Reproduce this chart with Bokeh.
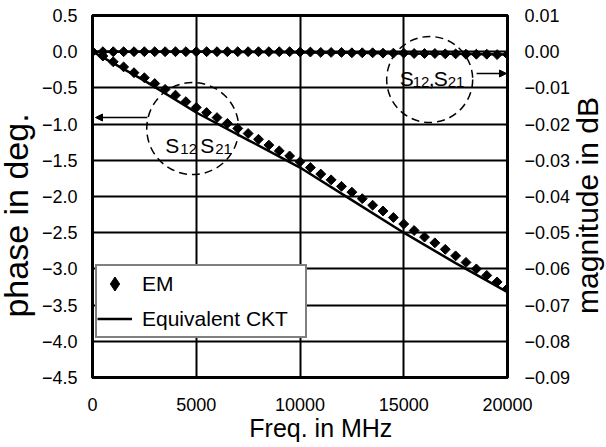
import math
from bokeh.plotting import figure
from bokeh.models import (Range1d, LinearAxis, FixedTicker, CustomJSTickFormatter,
                          Legend, LegendItem, Arrow, NormalHead, Label)
from bokeh.embed import file_html
from bokeh.resources import INLINE

# ---------------- data ----------------
freq_em = [0, 500, 1000, 1500, 2000, 2500, 3000, 3500, 4000, 4500,
           5000, 5500, 6000, 6500, 7000, 7500, 8000, 8500, 9000, 9500,
           10000, 10500, 11000, 11500, 12000, 12500, 13000, 13500, 14000, 14500,
           15000, 15500, 16000, 16500, 17000, 17500, 18000, 18500, 19000, 19500,
           20000]
em_phase = [0.0, -0.06, -0.14, -0.21, -0.29, -0.36, -0.44, -0.52, -0.60, -0.69,
            -0.77, -0.84, -0.91, -0.99, -1.06, -1.13, -1.21, -1.29, -1.37, -1.44,
            -1.52, -1.60, -1.69, -1.77, -1.86, -1.94, -2.03, -2.12, -2.20, -2.29,
            -2.38, -2.47, -2.56, -2.64, -2.73, -2.82, -2.91, -3.00, -3.09, -3.18,
            -3.27]
em_mag = [0.0, 0.0, 0.0, 0.0, 0.0, 0.0, 0.0, 0.0, 0.0, 0.0,
          0.0, 0.0, 0.0, 0.0, 0.0, 0.0, 0.0, 0.0, 0.0, 0.0,
          -0.0001, -0.0001, -0.0002, -0.0002, -0.0002, -0.0003, -0.0003, -0.0003, -0.0004, -0.0004,
          -0.0004, -0.0005, -0.0005, -0.0005, -0.0006, -0.0006, -0.0007, -0.0007, -0.0007, -0.0008,
          -0.0008]
freq_ckt = [0, 2500, 5000, 7500, 10000, 12500, 15000, 17500, 20000]
ckt_phase = [0.0, -0.40, -0.84, -1.22, -1.60, -2.05, -2.50, -2.92, -3.32]
ckt_mag = [0.0, 0.0, 0.0, -0.0001, -0.0002, -0.0003, -0.0005, -0.0006, -0.0008]

x_ticks = [0, 5000, 10000, 15000, 20000]
phase_ticks = [0.5, 0.0, -0.5, -1.0, -1.5, -2.0, -2.5, -3.0, -3.5, -4.0, -4.5]
mag_ticks = [0.01, 0.0, -0.01, -0.02, -0.03, -0.04, -0.05, -0.06, -0.07, -0.08, -0.09]

FONT = "Liberation Sans"

# frame geometry on the page (used only to place annotations)
FL, FR, FT, FB = 92, 508, 15, 377


def ax_x(px):
    return (px - FL) / (FR - FL) * 20000


def ax_y(py):
    return 0.5 - (py - FT) / (FB - FT) * 5.0


p = figure(width=606, height=447, x_range=Range1d(0, 20000), y_range=Range1d(-4.5, 0.5),
           output_backend="svg", toolbar_location=None,
           min_border_left=92, min_border_right=98, min_border_top=15, min_border_bottom=70)
p.extra_y_ranges = {"mag": Range1d(-0.09, 0.01)}
p.background_fill_color = "white"
p.border_fill_color = "white"
p.outline_line_color = "black"
p.outline_line_width = 3
p.outline_line_alpha = 1.0

rax = LinearAxis(y_range_name="mag")
p.add_layout(rax, "right")

p.xaxis.ticker = FixedTicker(ticks=x_ticks)
p.yaxis[0].ticker = FixedTicker(ticks=phase_ticks)
p.yaxis[0].formatter = CustomJSTickFormatter(code="return tick.toFixed(1).replace('-', '\u2212');")
rax.ticker = FixedTicker(ticks=mag_ticks)
rax.formatter = CustomJSTickFormatter(code="return tick.toFixed(2).replace('-', '\u2212');")

for ax in [p.xaxis[0], p.yaxis[0], rax]:
    ax.axis_line_color = None
    ax.major_tick_line_color = None
    ax.minor_tick_line_color = None
    ax.major_tick_out = 0
    ax.major_tick_in = 0
    ax.minor_tick_out = 0
    ax.minor_tick_in = 0
    ax.major_label_text_font = FONT
    ax.major_label_text_font_size = "18px"
    ax.major_label_text_color = "black"
    ax.axis_label_text_font = FONT
    ax.axis_label_text_font_style = "normal"
    ax.axis_label_text_color = "black"

p.xaxis[0].major_label_standoff = 20
p.xaxis[0].axis_label = "\u00a0\u00a0\u00a0\u00a0\u00a0\u00a0Freq. in MHz"
p.xaxis[0].axis_label_text_font_size = "25px"
p.xaxis[0].axis_label_standoff = 0

p.yaxis[0].major_label_standoff = 15
rax.major_label_standoff = 17

# side titles, reading bottom-to-top, each in its own side panel
p.add_layout(Label(x=15, y=162, x_units="screen", y_units="screen", text="phase in deg.",
                   angle=math.pi / 2, text_font=FONT, text_font_size="34px",
                   text_align="center", text_baseline="alphabetic", text_color="black"),
             "left")
p.add_layout(Label(x=14, y=172, x_units="screen", y_units="screen", text="magnitude in dB",
                   angle=math.pi / 2, text_font=FONT, text_font_size="30px",
                   text_align="center", text_baseline="alphabetic", text_color="black"),
             "right")

p.xgrid.ticker = FixedTicker(ticks=x_ticks)
p.ygrid.ticker = FixedTicker(ticks=phase_ticks)
for g in [p.xgrid[0], p.ygrid[0]]:
    g.grid_line_color = "black"
    g.grid_line_width = 2
    g.grid_line_alpha = 1.0

# ---------------- data glyphs ----------------
r_ckt = p.line(freq_ckt, ckt_phase, line_color="black", line_width=2.5)
p.line(freq_ckt, ckt_mag, y_range_name="mag", line_color="black", line_width=2.5)
p.scatter(freq_em, em_phase, marker="square", angle=math.pi / 4, size=7,
          fill_color="black", line_color="black")
p.scatter(freq_em, em_mag, y_range_name="mag", marker="square", angle=math.pi / 4, size=7,
          fill_color="black", line_color="black")
# renderer used only for the legend swatch (diamond); its single point is NaN, so not drawn
r_em_key = p.scatter(x=[float("nan")], y=[float("nan")], marker="diamond",
                     fill_color="black", line_color="black")

# ---------------- annotations ----------------
p.scatter([ax_x(192.5)], [ax_y(128)], marker="circle", size=92, fill_color=None,
          line_color="black", line_width=1.5, line_dash="8 5")
p.scatter([ax_x(430)], [ax_y(79)], marker="circle", size=86, fill_color=None,
          line_color="black", line_width=1.5, line_dash="8 5")

p.add_layout(Arrow(end=NormalHead(size=7, fill_color="black", line_color="black", line_width=1),
                   x_start=ax_x(147), y_start=ax_y(117), x_end=ax_x(95), y_end=ax_y(117),
                   line_color="black", line_width=1.5))
p.add_layout(Arrow(end=NormalHead(size=7, fill_color="black", line_color="black", line_width=1),
                   x_start=ax_x(477), y_start=ax_y(73), x_end=ax_x(507), y_end=ax_y(73),
                   line_color="black", line_width=1.5))

s_texts = [("S", 165, 145, "21px"), ("12", 180, 148, "15px"),
           ("S", 200, 145, "21px"), ("21", 215, 148, "15px"),
           ("S", 400, 78, "21px"), ("12", 413, 81, "15px"), (",", 429, 78, "21px"),
           ("S", 434, 78, "21px"), ("21", 448, 81, "15px")]
for t, px, py, fs in s_texts:
    p.add_layout(Label(x=ax_x(px), y=ax_y(py), text=t, text_font=FONT, text_font_size=fs,
                       text_align="left", text_baseline="alphabetic", text_color="black"))

legend = Legend(items=[LegendItem(label="EM", renderers=[r_em_key]),
                       LegendItem(label="Equivalent CKT", renderers=[r_ckt])],
                location=(3, 39), margin=0, padding=0, spacing=0,
                glyph_width=35, glyph_height=35, label_height=35, label_width=163,
                label_standoff=10, label_text_font=FONT, label_text_font_size="21px",
                label_text_color="black", border_line_color="black", border_line_width=2,
                background_fill_color="white", background_fill_alpha=1.0)
p.add_layout(legend)

open("out.html", "w").write(file_html(p, INLINE))
